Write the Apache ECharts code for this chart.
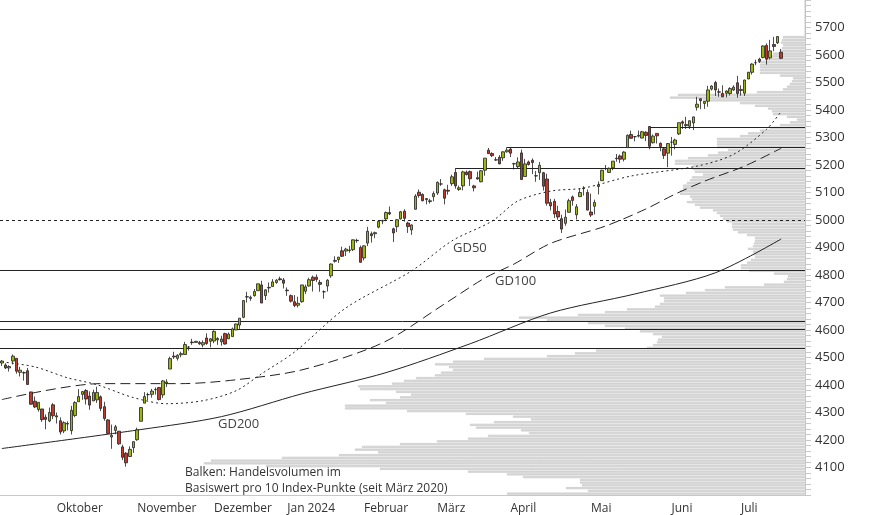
<!DOCTYPE html>
<html>
<head>
<meta charset="utf-8">
<script src="https://cdn.jsdelivr.net/npm/echarts@6/dist/echarts.min.js"></script>
<style>
  html, body { margin: 0; padding: 0; background: #fff; }
  #chart { width: 874px; height: 515px; }
</style>
</head>
<body>
<div id="chart"></div>
<script>
// months shown on the x axis and how many trading days each has in view
const monthNames = ['', 'Oktober', 'November', 'Dezember', 'Jan 2024', 'Februar', 'März', 'April', 'Mai', 'Juni', 'Juli']
const monthDays = [15, 22, 21, 20, 21, 20, 20, 22, 22, 19, 12]
const slots = 220

// daily candles: [open, close, low, high]
const candles = [
  [4480,4487,4469,4491],[4473,4462,4458,4479],[4462,4467,4449,4472],[4487,4505,4475,4511],[4497,4450,4441,4497],
  [4446,4454,4431,4466],[4445,4444,4416,4449],[4452,4402,4401,4462],[4375,4330,4329,4375],[4341,4320,4316,4358],
  [4311,4337,4303,4338],[4313,4274,4266,4313],[4283,4275,4239,4293],[4269,4300,4265,4318],[4328,4288,4276,4334],
  [4284,4288,4260,4300],[4270,4229,4220,4282],[4233,4263,4225,4268],[4260,4258,4235,4268],[4234,4308,4220,4324],
  [4289,4336,4283,4341],[4339,4358,4339,4385],[4366,4376,4346,4378],[4380,4349,4329,4385],[4360,4327,4310,4377],
  [4342,4373,4342,4383],[4346,4373,4335,4394],[4357,4315,4305,4362],[4321,4278,4270,4339],[4273,4224,4223,4276],
  [4211,4217,4168,4256],[4235,4248,4221,4255],[4232,4186,4182,4233],[4175,4137,4127,4183],[4152,4117,4103,4156],
  [4140,4166,4138,4177],[4172,4194,4153,4195],
  [4201,4237,4197,4245],[4268,4318,4268,4320],[4334,4358,4334,4374],[4365,4365,4344,4372],[4366,4378,4354,4386],
  [4384,4383,4365,4391],[4391,4347,4344,4393],[4364,4415,4353,4418],[4406,4411,4393,4421],[4458,4496,4458,4503],
  [4505,4502,4495,4521],[4497,4508,4489,4512],[4510,4514,4501,4521],[4511,4547,4511,4557],[4538,4538,4525,4542],
  [4554,4556,4546,4568],[4555,4559,4555,4560],[4555,4550,4546,4560],[4546,4554,4537,4562],[4571,4551,4546,4588],
  [4559,4568,4537,4570],
  [4560,4595,4552,4599],[4564,4569,4546,4574],[4557,4567,4543,4579],[4587,4549,4547,4590],[4568,4585,4567,4591],
  [4576,4604,4575,4609],[4600,4622,4600,4623],[4618,4643,4604,4643],[4646,4707,4643,4709],[4721,4720,4700,4739],
  [4715,4719,4706,4725],[4725,4740,4721,4749],[4743,4768,4743,4768],[4764,4698,4698,4779],[4725,4746,4709,4748],
  [4753,4755,4736,4773],[4758,4775,4758,4785],[4773,4781,4768,4785],[4786,4783,4780,4794],[4782,4770,4751,4789],
  [4745,4743,4724,4755],[4725,4705,4700,4729],[4703,4689,4683,4727],[4690,4697,4682,4721],[4703,4764,4699,4764],
  [4741,4757,4731,4765],[4760,4783,4758,4790],[4792,4780,4740,4798],[4792,4784,4775,4802],[4773,4766,4739,4782],
  [4739,4739,4714,4744],[4760,4781,4740,4785],[4797,4840,4790,4842],[4853,4850,4845,4868],[4856,4865,4844,4866],
  [4888,4868,4866,4903],[4887,4894,4869,4899],[4889,4891,4881,4906],[4892,4928,4887,4929],[4926,4925,4917,4932],
  [4900,4846,4845,4907],
  [4862,4906,4853,4907],[4916,4959,4905,4975],[4950,4943,4918,4958],[4950,4954,4934,4958],[4974,4995,4970,5000],
  [4996,4998,4985,5001],[5004,5027,4996,5031],[5027,5022,5018,5049],[4968,4953,4920,4972],[4976,5001,4956,5003],
  [5004,5030,5002,5033],[5032,5006,4994,5039],[4989,4976,4953,4994],[4964,4982,4946,4984],[5039,5087,5038,5094],
  [5101,5089,5081,5111],[5093,5070,5068,5097],[5074,5078,5057,5080],[5067,5070,5060,5077],[5085,5096,5068,5104],
  [5098,5137,5091,5140],[5131,5131,5124,5149],[5110,5079,5057,5114],[5108,5105,5092,5128],[5132,5157,5124,5165],
  [5173,5124,5114,5189],[5111,5117,5106,5125],[5124,5175,5108,5179],[5174,5165,5162,5180],[5176,5150,5124,5180],
  [5124,5117,5104,5128],[5154,5149,5147,5176],[5139,5179,5137,5181],[5181,5225,5161,5225],[5254,5241,5241,5262],
  [5242,5234,5229,5246],[5219,5218,5215,5229],[5228,5204,5203,5236],[5226,5248,5215,5249],[5248,5254,5245,5264],
  [5258,5243,5229,5264],[5204,5205,5184,5208],[5194,5211,5189,5228],[5244,5147,5146,5256],[5158,5204,5158,5222],
  [5211,5202,5198,5216],[5217,5209,5167,5224],[5160,5161,5139,5178],[5172,5199,5146,5211],[5172,5123,5107,5175],
  [5149,5061,5052,5168],[5064,5051,5035,5077],[5068,5022,5007,5077],[5031,5011,5001,5052],[5005,4967,4953,5019],
  [4988,5010,4979,5038],[5028,5070,5027,5077],[5084,5071,5052,5089],[5019,5048,5002,5058],[5085,5100,5084,5114],
  [5114,5116,5089,5123],[5100,5036,5035,5111],
  [5029,5018,5011,5096],[5050,5064,5020,5074],[5122,5128,5093,5140],[5143,5181,5143,5183],[5187,5187,5181,5200],
  [5173,5188,5171,5191],[5190,5214,5181,5214],[5225,5223,5212,5240],[5233,5221,5207,5238],[5221,5247,5213,5250],
  [5263,5308,5263,5311],[5311,5297,5295,5325],[5303,5303,5286,5305],[5305,5308,5300,5325],[5298,5321,5297,5324],
  [5319,5307,5287,5323],[5340,5268,5257,5341],[5281,5305,5278,5311],[5315,5306,5278,5315],[5279,5267,5250,5282],
  [5259,5235,5222,5263],[5243,5278,5192,5280],
  [5283,5283,5234,5302],[5275,5291,5257,5296],[5313,5354,5309,5354],[5357,5352,5331,5362],[5343,5347,5331,5375],
  [5341,5361,5331,5362],[5353,5375,5327,5376],[5410,5421,5398,5448],[5441,5434,5403,5442],[5424,5431,5404,5432],
  [5432,5473,5412,5488],[5476,5487,5471,5490],[5500,5473,5451,5506],[5466,5465,5448,5478],[5460,5448,5447,5490],
  [5461,5469,5446,5472],[5460,5478,5453,5483],[5473,5483,5469,5490],[5499,5460,5445,5524],
  [5471,5475,5452,5490],[5461,5509,5451,5510],[5513,5537,5512,5539],[5537,5567,5529,5570],[5572,5572,5563,5583],
  [5585,5577,5571,5590],[5591,5633,5588,5635],[5635,5585,5565,5642],[5590,5615,5584,5655],[5638,5631,5614,5666],
  [5644,5667,5640,5669],[5610,5588,5585,5622]
]

// moving averages: [day index, value]
const gd50 = [[0,4484],[9,4466],[18,4426],[26,4401],[36,4354],[45,4332],[55,4343],[64,4379],[71,4441],[80,4520],
  [94,4680],[112,4815],[123,4924],[134,4996],[141,5069],[150,5105],[159,5116],[172,5160],[190,5196],[200,5239],[209,5330],[213,5395]]
const gd100 = [[0,4347],[27,4405],[49,4405],[64,4419],[82,4455],[104,4553],[121,4695],[132,4789],[140,4840],
  [150,4915],[165,4978],[176,5040],[184,5094],[192,5141],[203,5196],[213,5261]]
const gd200 = [[0,4169],[38,4238],[60,4285],[82,4368],[105,4445],[128,4550],[150,4662],[173,4731],[195,4808],[213,4931]]

// horizontal levels
const fullLevels = [4818, 4633, 4604, 4535]
const partLevels = [[177, 5338], [138, 5264], [124, 5188]]
const dottedLevel = 5000

// volume per 10 index points, buckets 4000..5790
const volStart = 4000
const volume = [
  298,217,239,223,225,225,282,298,337,425,
  539,601,594,523,466,427,450,443,405,368,
  337,317,276,284,329,335,311,274,292,339,
  398,460,460,419,435,405,394,409,445,447,
  413,401,389,370,364,352,356,370,352,321,
  258,230,209,158,152,148,147,143,152,165,
  180,200,217,258,286,227,200,178,150,145,
  141,141,145,119,100,80,41,21,18,17,
  31,56,64,64,58,54,50,51,52,57,
  52,51,50,50,58,67,72,73,73,78,
  82,85,88,92,105,110,118,113,115,125,
  125,122,122,118,115,113,102,110,112,112,
  130,130,117,97,87,77,88,88,88,88,
  65,57,45,35,25,15,8,18,32,33,
  37,50,65,102,135,127,48,22,18,15,
  13,12,25,45,45,45,45,47,38,35,
  32,25,23,22,24,23,22,0,0,0,
  0,0,0,0,0,0,0,0,0,0
]

const categories = Array.from({ length: slots }, (_, i) => String(i))
const monthStart = {}
let acc = 0
monthDays.forEach((d, m) => { if (m > 0) monthStart[acc] = monthNames[m]; acc += d })
const volCats = volume.map((_, i) => String(volStart + i * 10))

const gridBox = { left: 0, right: 69, top: -2, height: 497 }
const ink = '#222'

const chart = echarts.init(document.getElementById('chart'))
chart.setOption({
  animation: false,
  textStyle: { fontFamily: 'Open Sans' },
  grid: [gridBox, gridBox],
  xAxis: [
    {
      type: 'category', data: categories, gridIndex: 0,
      axisLine: { lineStyle: { color: '#c8c8c8' } },
      axisTick: { interval: i => monthStart[i] !== undefined, length: 22, lineStyle: { color: '#c8c8c8' } },
      axisLabel: {
        interval: i => monthStart[i] !== undefined,
        formatter: v => monthStart[+v] || '',
        align: 'left', margin: 8, color: '#333', fontSize: 12
      },
      splitLine: { show: false }
    },
    { type: 'value', gridIndex: 1, inverse: true, min: 0, max: 805, show: false }
  ],
  yAxis: [
    {
      type: 'value', gridIndex: 0, position: 'right', min: 4000, max: 5800, interval: 100,
      axisLine: { show: true, lineStyle: { color: '#c8c8c8' } },
      axisTick: { show: true, length: 6, lineStyle: { color: '#c8c8c8' } },
      minorTick: { show: true, splitNumber: 5, length: 6, lineStyle: { color: '#c8c8c8' } },
      axisLabel: { formatter: v => (v >= 4100 && v <= 5700 ? v : ''), color: '#333', fontSize: 13, margin: 10 },
      splitLine: { show: false }
    },
    { type: 'category', gridIndex: 1, data: volCats, show: false }
  ],
  series: [
    {
      type: 'bar', xAxisIndex: 1, yAxisIndex: 1, data: volume, barCategoryGap: '25%', z: 1,
      itemStyle: { color: '#dedede', borderColor: '#bdbdbd', borderWidth: 0.6 }
    },
    {
      type: 'candlestick', data: candles, barWidth: 3, z: 5,
      itemStyle: { color: '#9cb511', color0: '#c0392b', borderColor: ink, borderColor0: ink, borderWidth: 0.8 },
      markLine: {
        symbol: 'none', silent: true, label: { show: false },
        lineStyle: { color: ink, width: 1, type: 'solid' },
        data: [
          ...fullLevels.map(v => ({ yAxis: v })),
          ...partLevels.map(([i, v]) => [{ coord: [i, v] }, { coord: [slots - 1, v], x: 805 }]),
          { yAxis: dottedLevel, lineStyle: { type: [3, 3], color: ink } }
        ]
      }
    },
    { type: 'line', data: gd50, showSymbol: false, smooth: 0.3, z: 4, lineStyle: { color: ink, width: 1, type: [2, 3] } },
    { type: 'line', data: gd100, showSymbol: false, smooth: 0.3, z: 4, lineStyle: { color: ink, width: 1, type: [10, 5] } },
    { type: 'line', data: gd200, showSymbol: false, smooth: 0.3, z: 4, lineStyle: { color: ink, width: 1 } }
  ],
  graphic: [
    { type: 'text', left: 453, top: 242, style: { text: 'GD50', fill: '#444', font: '13px "Open Sans"' } },
    { type: 'text', left: 495, top: 275, style: { text: 'GD100', fill: '#444', font: '13px "Open Sans"' } },
    { type: 'text', left: 218, top: 418, style: { text: 'GD200', fill: '#444', font: '13px "Open Sans"' } },
    { type: 'text', left: 185, top: 465, style: { text: 'Balken: Handelsvolumen im\nBasiswert pro 10 Index-Punkte (seit März 2020)', fill: '#333', font: '12px "Open Sans"', lineHeight: 16 } }
  ]
})
</script>
</body>
</html>
